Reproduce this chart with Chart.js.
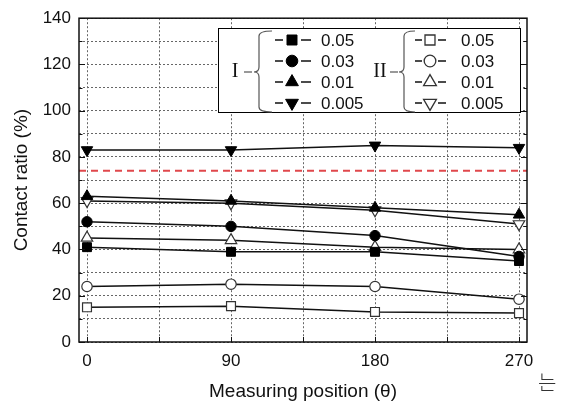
<!DOCTYPE html>
<html><head><meta charset="utf-8">
<script src="https://cdn.jsdelivr.net/npm/chart.js@4/dist/chart.umd.min.js"></script>
<style>
html,body{margin:0;padding:0;background:#fff;}
#wrap{position:relative;width:568px;height:404px;}
#note{position:absolute;left:538px;top:372px;font-family:"Noto Sans CJK KR","Noto Sans CJK SC",sans-serif;font-size:20px;font-weight:300;color:#333;line-height:1;}
</style></head><body>
<div id="wrap"><canvas id="c" width="568" height="404"></canvas><div id="note">는</div></div>
<script>
// ---- data ----
const positions = [0, 90, 180, 270];
const xTickValues = [0, 45, 90, 135, 180, 225, 270];
const xLabelValues = [0, 90, 180, 270];
const yLabelStep = 20;
const seriesNames = ['0.05', '0.03', '0.01', '0.005'];
const groupNames = ['I', 'II'];
const groupI_005  = [41, 39, 39, 35];
const groupI_003  = [52, 50, 46, 37];
const groupI_001  = [63, 61, 58, 55];
const groupI_0005 = [83, 83, 85, 84];
const groupII_005  = [15, 15.5, 13, 12.5];
const groupII_003  = [24, 25, 24, 18.5];
const groupII_001  = [45, 44, 41, 40];
const groupII_0005 = [61, 60, 57, 51];
const referenceLevel = 74;
const xMin = -5, xMax = 275, yMin = 0, yMax = 140;

const FONT = '"Liberation Sans", Arial, sans-serif';
const markerStyles = [
  {style:'rect', r:6.3, rot:0},
  {style:'circle', r:5.2, rot:0},
  {style:'triangle', r:6.6, rot:0},
  {style:'triangle', r:6.6, rot:180}
];
function mk(vals, idx, filled, name){
  const m = markerStyles[idx];
  return {
    label: name,
    data: positions.map((x,i)=>({x:x, y:vals[i]})),
    borderColor:'#111', borderWidth:1.5,
    pointStyle:m.style, pointRotation:m.rot, pointRadius:m.r, pointHoverRadius:m.r,
    pointBackgroundColor: filled ? '#000' : '#fff',
    pointBorderColor: filled ? '#000' : '#333',
    pointBorderWidth: filled ? 1 : 1.2,
    tension:0, fill:false
  };
}
const datasets = [
  mk(groupI_005,0,true,'I 0.05'), mk(groupI_003,1,true,'I 0.03'),
  mk(groupI_001,2,true,'I 0.01'), mk(groupI_0005,3,true,'I 0.005'),
  mk(groupII_005,0,false,'II 0.05'), mk(groupII_003,1,false,'II 0.03'),
  mk(groupII_001,2,false,'II 0.01'), mk(groupII_0005,3,false,'II 0.005'),
  {label:'ref', data:[{x:xMin,y:referenceLevel},{x:xMax,y:referenceLevel}],
   borderColor:'#e0484c', borderWidth:2, borderDash:[7,5], pointRadius:0, fill:false}
];

function drawMarker(ctx, style, r, rot, x, y, filled){
  ctx.save();
  ctx.fillStyle = filled ? '#000' : '#fff';
  ctx.strokeStyle = filled ? '#000' : '#333';
  ctx.lineWidth = filled ? 1 : 1.3;
  ctx.beginPath();
  if (style==='rect'){ const s=Math.SQRT1_2*r; ctx.rect(x-s,y-s,2*s,2*s); }
  else if (style==='circle'){ ctx.arc(x,y,r,0,Math.PI*2); }
  else {
    let a = rot*Math.PI/180;
    ctx.moveTo(x+Math.sin(a)*r, y-Math.cos(a)*r);
    a += 2*Math.PI/3; ctx.lineTo(x+Math.sin(a)*r, y-Math.cos(a)*r);
    a += 2*Math.PI/3; ctx.lineTo(x+Math.sin(a)*r, y-Math.cos(a)*r);
    ctx.closePath();
  }
  ctx.fill(); ctx.stroke();
  ctx.restore();
}
function brace(ctx, xv, xe, top, bot, mid, tipX){
  ctx.beginPath();
  ctx.moveTo(xe, top);
  ctx.quadraticCurveTo(xv, top, xv, top+5);
  ctx.lineTo(xv, mid-5);
  ctx.quadraticCurveTo(xv, mid, tipX, mid);
  ctx.quadraticCurveTo(xv, mid, xv, mid+5);
  ctx.lineTo(xv, bot-5);
  ctx.quadraticCurveTo(xv, bot, xe, bot);
  ctx.stroke();
}

const decor = {
  id:'decor',
  afterDatasetsDraw(chart){
    const ctx = chart.ctx, a = chart.chartArea;
    const ys = chart.scales.y, xs = chart.scales.x;
    ctx.save();
    ctx.strokeStyle='#111'; ctx.lineWidth=1;
    for (let v=yMin; v<=yMax; v+=10){
      const p = Math.round(ys.getPixelForValue(v))+0.5;
      const len = v%yLabelStep===0 ? 6 : 3.5;
      ctx.beginPath(); ctx.moveTo(a.left,p); ctx.lineTo(a.left+len,p);
      ctx.moveTo(a.right,p); ctx.lineTo(a.right-len,p); ctx.stroke();
    }
    xTickValues.forEach(v=>{
      const p = Math.round(xs.getPixelForValue(v))+0.5;
      ctx.beginPath(); ctx.moveTo(p,a.bottom); ctx.lineTo(p,a.bottom-5); ctx.stroke();
    });
    // legend box
    const L=218, T=28, R=521, B=113;
    ctx.fillStyle='#fff'; ctx.fillRect(L,T,R-L,B-T);
    ctx.strokeStyle='#000'; ctx.lineWidth=1;
    ctx.strokeRect(L+0.5,T+0.5,R-L-1,B-T-1);
    const rows=[40,61,82,103];
    const groups=[
      {label:groupNames[0], lx:235, dash:[244,252], xv:259, xe:272, mx:292, l1:[275,283], l2:[301,311], tx:321, filled:true},
      {label:groupNames[1], lx:380, dash:[390,398], xv:404, xe:415, mx:430, l1:[415,422], l2:[438,446], tx:461, filled:false}
    ];
    groups.forEach(g=>{
      ctx.fillStyle='#111'; ctx.font='20px "Liberation Serif", serif';
      ctx.textAlign='center'; ctx.textBaseline='middle';
      ctx.fillText(g.label, g.lx, 72);
      ctx.strokeStyle='#555'; ctx.lineWidth=1.2;
      ctx.beginPath(); ctx.moveTo(g.dash[0],72); ctx.lineTo(g.dash[1],72); ctx.stroke();
      brace(ctx, g.xv, g.xe, 31, 112, 72, g.xv-5);
      rows.forEach((y,i)=>{
        ctx.strokeStyle='#111'; ctx.lineWidth=1.5;
        ctx.beginPath(); ctx.moveTo(g.l1[0],y); ctx.lineTo(g.l1[1],y);
        ctx.moveTo(g.l2[0],y); ctx.lineTo(g.l2[1],y); ctx.stroke();
        const m = markerStyles[i];
        drawMarker(ctx, m.style, m.r*1.12, m.rot, g.mx, y, g.filled);
        ctx.fillStyle='#111'; ctx.font='17px '+FONT; ctx.textAlign='left';
        ctx.fillText(seriesNames[i], g.tx, y+1);
      });
    });
    ctx.restore();
  },
  afterDraw(chart){
    const ctx=chart.ctx, a=chart.chartArea;
    ctx.save(); ctx.strokeStyle='#111'; ctx.lineWidth=1.5;
    ctx.strokeRect(a.left, a.top, a.right-a.left, a.bottom-a.top);
    ctx.restore();
  }
};

new Chart(document.getElementById('c'), {
  type:'line',
  data:{datasets},
  options:{
    responsive:false, animation:false, devicePixelRatio:1,
    layout:{padding:{left:0, top:15, right:41, bottom:0}},
    plugins:{legend:{display:false}, tooltip:{enabled:false}},
    elements:{line:{borderJoinStyle:'round'}},
    scales:{
      x:{type:'linear', min:xMin, max:xMax,
        afterBuildTicks(s){ s.ticks = xTickValues.map(v=>({value:v})); },
        afterFit(s){ s.height = 62; },
        ticks:{autoSkip:false, maxRotation:0, padding:9, color:'#111', font:{family:FONT, size:17},
          callback:v=> xLabelValues.includes(v) ? String(v) : ''},
        grid:{color:'#666', lineWidth:1, drawTicks:false},
        border:{display:false, dash:[2,2]},
        title:{display:true, text:'Measuring position (θ)', color:'#111', font:{family:FONT, size:19}, padding:{top:0,bottom:1}}
      },
      y:{min:yMin, max:yMax,
        afterBuildTicks(s){ const t=[]; for(let v=yMin; v<=yMax; v+=10) t.push({value:v}); s.ticks=t; },
        afterFit(s){ s.width = 79; },
        ticks:{autoSkip:false, padding:8, color:'#111', font:{family:FONT, size:17},
          callback:v=> v%yLabelStep===0 ? String(v) : ''},
        grid:{color:'#666', lineWidth:1, drawTicks:false},
        border:{display:false, dash:[2,2]},
        title:{display:true, text:'Contact ratio (%)', color:'#111', font:{family:FONT, size:19}, padding:{top:10,bottom:0}}
      }
    }
  },
  plugins:[decor]
});
</script>
</body></html>
